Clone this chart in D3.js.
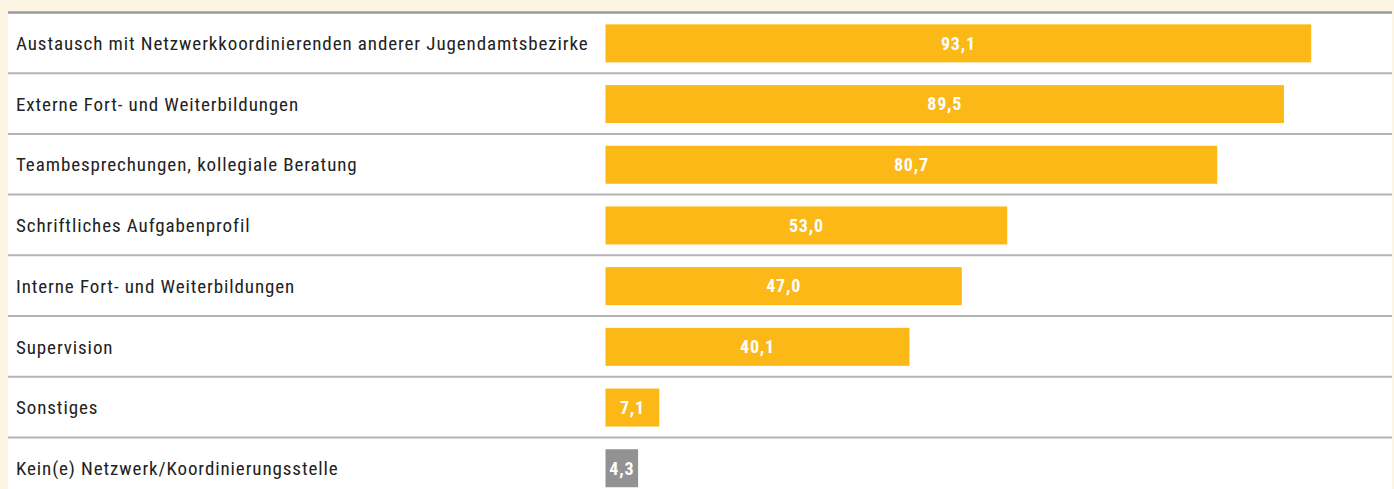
<!DOCTYPE html>
<html>
<head>
<meta charset="utf-8">
<script src="https://cdn.jsdelivr.net/npm/d3@7"></script>
<style>
  html, body { margin: 0; padding: 0; background: #fdf5e4; }
  #chart { width: 1394px; height: 489px; }
  text { font-family: "Liberation Sans Narrow", "Roboto Condensed", "Liberation Sans", sans-serif; }
</style>
</head>
<body>
<div id="chart"></div>
<script>
var categories = [
  "Austausch mit Netzwerkkoordinierenden anderer Jugendamtsbezirke",
  "Externe Fort- und Weiterbildungen",
  "Teambesprechungen, kollegiale Beratung",
  "Schriftliches Aufgabenprofil",
  "Interne Fort- und Weiterbildungen",
  "Supervision",
  "Sonstiges",
  "Kein(e) Netzwerk/Koordinierungsstelle"
];
var values = [93.1, 89.5, 80.7, 53.0, 47.0, 40.1, 7.1, 4.3];
var valueLabels = ["93,1", "89,5", "80,7", "53,0", "47,0", "40,1", "7,1", "4,3"];
var barColors = ["#fbb817", "#fbb817", "#fbb817", "#fbb817", "#fbb817", "#fbb817", "#fbb817", "#929294"];

var W = 1394, H = 489;
var panel = {left: 8, right: 1392, top: 12};
var rowH = 60.7;

var svg = d3.select("#chart").append("svg")
  .attr("width", W)
  .attr("height", H);

// white panel
svg.append("rect")
  .attr("x", panel.left)
  .attr("y", panel.top)
  .attr("width", panel.right - panel.left)
  .attr("height", H - panel.top)
  .attr("fill", "#ffffff");

var y = d3.scaleBand()
  .domain(categories)
  .range([panel.top, panel.top + rowH * categories.length])
  .paddingInner(0)
  .paddingOuter(0);

var x = d3.scaleLinear()
  .domain([0, 100])
  .range([605.5, 605.5 + 758]);

// row separators
svg.append("g")
  .selectAll("line")
  .data(categories.slice(1))
  .join("line")
    .attr("x1", panel.left)
    .attr("x2", panel.right)
    .attr("y1", d => y(d) + 0.5)
    .attr("y2", d => y(d) + 0.5)
    .attr("stroke", "#b4b4b4")
    .attr("stroke-width", 2);

// top rule
svg.append("line")
  .attr("x1", panel.left)
  .attr("x2", panel.right)
  .attr("y1", panel.top + 0.5)
  .attr("y2", panel.top + 0.5)
  .attr("stroke", "#9a9a9a")
  .attr("stroke-width", 2.5);

var barH = 38;

var rows = svg.append("g")
  .selectAll("g")
  .data(categories)
  .join("g")
    .attr("transform", d => `translate(0,${y(d) + y.bandwidth() / 2 + 1})`);

rows.append("text")
  .attr("x", 16)
  .attr("dy", "0.35em")
  .attr("font-size", 19)
  .attr("letter-spacing", 0.9)
  .attr("fill", "#222")
  .text(d => d);

rows.append("rect")
  .attr("x", x(0))
  .attr("y", -barH / 2)
  .attr("width", (d, i) => x(values[i]) - x(0))
  .attr("height", barH)
  .attr("fill", (d, i) => barColors[i]);

rows.append("text")
  .attr("x", (d, i) => (x(0) + x(values[i])) / 2)
  .attr("dy", "0.35em")
  .attr("text-anchor", "middle")
  .attr("font-size", 18)
  .attr("font-weight", "bold")
  .attr("letter-spacing", 0.8)
  .attr("fill", "#ffffff")
  .text((d, i) => valueLabels[i]);
</script>
</body>
</html>
